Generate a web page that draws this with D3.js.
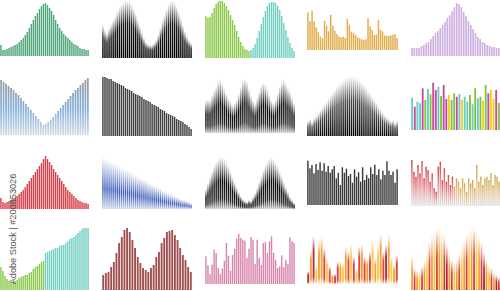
<!DOCTYPE html>
<html><head><meta charset="utf-8">
<script src="https://cdn.jsdelivr.net/npm/d3@7"></script>
<style>html,body{margin:0;padding:0;background:#fff;overflow:hidden}</style>
</head><body><svg id="c" width="500" height="291"></svg>
<script>
// ---- data (bar heights per mini chart) ----
const p1 = [11,6,6,7,8,9,10,11,12,14,16,18,21,24,28,32,36,40,43,47,50,52,53,51,48,45,41,36,32,28,25,22,20,18,16,14,12,11,10,8,7,7,6,6];
const p2 = [33,28,25,30,34,38,42,47,51,54,56,58,58,57,54,50,45,38,32,26,20,16,14,13,13,15,18,23,30,37,43,49,54,57,58,56,52,46,40,33,27,22,18,15];
const p3 = [42,40,41,45,50,54,56,57,57,55,52,48,43,38,33,27,21,16,12,9,8,7,8,10,14,20,27,34,41,47,52,55,56,56,55,52,48,42,35,28,21,15,10,7];
const p4 = [37.7,28.7,39.3,28.7,22.7,17.7,13.3,11.7,29.3,24.3,18.7,35.3,24.3,19.3,16,13.3,12.7,13.3,12,31,25.3,18.3,17,15,12.7,11.7,10.7,10,10.7,31.7,23.7,20,15,15.3,30.3,20.3,18.7,14.7,14.3,14,14.7,15.3,16,12];
const p5 = [8,8,8,8,10,11,13,14,17,20,23,25,28,31,34,38,41,45,49,53,52,49,44,40,35,31,27,23,19,17,14,13,11,10,9,9,8,8];
const p6 = [55,53,51,49,47,45,42,40,37,34,31,28,25,22,19,16,13,10,11,13,15,18,21,24,27,30,33,36,39,42,45,47,50,52,55,57];
const p7 = [59,59,58,57,57,55,54,53,52,51,50,48,47,46,45,43,42,41,40,39,37,36,35,34,32,31,30,29,27,26,25,23,22,21,20,19,17,16,15,14,12,11,9,7];
const p8 = [33,34,33,38,43,47,52,54,50,45,40,35,32,28,30,34,40,47,53,55,52,45,38,33,30,35,42,48,51,49,44,38,33,30,34,40,47,52,54,50,46,42,36,30];
const p9 = [15,17,14,18,20,23,26,29,32,35,38,41,44,47,50,52,54,56,58,59,60,60,60,59,58,56,54,52,49,46,43,40,37,34,30,27,24,21,19,17,15,16,13,15];
const p10 = [32.3,23.3,28.3,26.7,41.7,30,41,35.7,47.3,40,43.3,34,45,31,35,30,36.7,33.3,36,30,33.3,28.3,35,25.7,41.7,31.7,33.3,29.3,45,36.7,40,31,40,27.3];
const p10Cats = ["c","m","c","c","m","g","c","g","m","m","c","g","m","m","y","g","g","m","c","y","c","c","g","c","g","c","g","y","g","m","y","y","m","g"];
const p11 = [11,7,6,7,8,9,10,11,13,15,17,19,22,25,28,31,34,37,40,43,46,50,53,50,47,44,40,37,34,31,28,25,22,19,17,15,13,11,9,8,7,6,6,5];
const p12 = [52,51,50,49,48,47,46,45,43,42,41,40,39,38,37,35,34,33,32,31,30,29,27,26,25,24,23,22,21,19,18,17,16,15,14,13,12,11,10,9,9,8,7,6];
const p13 = [20,26,32,38,43,47,50,52,52,50,47,43,38,32,27,22,17,13,10,8,7,9,8,12,16,21,27,33,39,44,48,51,52,50,47,43,38,33,27,22,17,12,9,6];
const p14 = [44.3,36.7,40,31.7,41,35,42.7,34.3,41.7,33.3,39,32.3,35.7,39,26.7,32.3,20,37.7,32.3,36.3,29,31,22.3,35.7,28.3,32.7,23.3,37.7,25,30,26.7,37.7,31,40.3,30,35.7,25.7,34.3,30,43.7,34.3,30,33.3,22.3,35.7];
const p15 = [46,34.3,29.3,41,32.7,45,27.7,39.3,36,24.3,32.7,17.7,14.3,39.3,44.3,26,37.7,24.3,31,21,29.3,19.3,27.7,24.3,17.7,27.7,22.7,14.3,27.7,22.7,26,17.7,41,24.3,29.3,21,27.7,29.3,26,32.7,21,31,29.3,24.3];
const p16 = [23,19,14,11,9,8,8,9,10,12,13,14,15,15,17,18,21,23,24,26,28,29,37,38,39,40,41,42,42,44,45,45,47,49,51,52,53,55,57,59,61,62,62,62];
const p17 = [15,17,18,23,28,37,47,53,60,62,58,50,42,33,27,22,20,18,22,25,33,38,47,52,58,59,60,55,50,42,35,30,23,18];
const p18 = [27.7,18.7,10,19.3,34.3,31,16,10,15.3,23.3,41,28.3,13.3,29.3,35.3,45.3,50,46,44.3,43.3,26,35.3,47,44.3,20,44.3,26,19.3,41,42,31,42.7,47.7,31,24.3,16,17.7,28.7,16.7,24.3,20,46.7,42.7,41];
const p19 = [12.7,34.3,47.7,19.3,42.7,47.7,36,26,17.7,10,10,22.7,22.7,21,37.7,32.7,40,27.7,16,37.7,40,27.7,26,32.7,44.3,26,39.3,51,32.7,39.3,49.3,27.7,19.3,29.3];
const p19Cats = ["d","o","d","y","o","o","r","y","r","o","r","r","o","y","o","r","y","r","y","r","o","r","o","r","y","o","y","o","r","d","o","y","o","r"];
const p20 = [35,22,20,20,24,30,38,48,55,59,61,62,59,55,45,38,30,28,30,35,43,50,55,59,61,62,60,55,48,38,32,26,22,18,15,13];
const p20Cats = ["o","r","o","y","r","o","y","r","o","y","r","o","y","r","d","o","r","y","o","r","y","o","r","y","o","r","y","o","r","d","o","y","r","o","d","r"];
const watermark = "Adobe Stock | #200853026";

// ---- drawing ----
const svg = d3.select("#c");
const defs = svg.append("defs");
function grad(id, stops, opts = {}) {
  const g = defs.append("linearGradient").attr("id", id)
    .attr("x1", 0).attr("x2", 0).attr("y1", opts.y1 ?? 0).attr("y2", opts.y2 ?? 1);
  if (opts.user) g.attr("gradientUnits", "userSpaceOnUse");
  stops.forEach(([o, c, a]) => g.append("stop").attr("offset", o).attr("stop-color", c).attr("stop-opacity", a ?? 1));
  return `url(#${id})`;
}

const colX = [[0, 89], [102, 192], [205, 295], [307, 398], [411, 500]];

function drawPanel(values, xr, base, top, fillFn) {
  const x = d3.scaleBand().domain(d3.range(values.length)).range(xr).paddingInner(0.3).paddingOuter(0.1);
  const y = d3.scaleLinear().domain([0, d3.max(values)]).range([base, top]);
  svg.append("g").selectAll("rect").data(values).join("rect")
    .attr("x", (d, i) => x(i)).attr("width", x.bandwidth())
    .attr("y", d => y(d)).attr("height", d => y(0) - y(d))
    .attr("fill", (d, i) => fillFn(d, i));
}

const gP2 = grad("gP2", [[0, "#000", 0], [0.4, "#000", 0.9], [1, "#000", 1]]);
const gMid = grad("gMid", [[0, "#000", 0], [0.45, "#000", 0.95], [0.8, "#111", 0.9], [1, "#000", 0.2]]);
const gP9 = grad("gP9", [[0, "#000", 0], [0.4, "#000", 0.7], [1, "#000", 1]]);
const gP6 = grad("gP6", [[0, "#9a9a9a"], [0.55, "#86b1dd"], [1, "#d3dbe4"]], {user: true, y1: 78, y2: 135});
const gP12 = grad("gP12", [[0, "#3b5cb8", 0], [0.6, "#3b5cb8", 1], [1, "#3b5cb8", 0.25]]);
const gP15r = grad("gP15r", [[0, "#d9414a"], [0.55, "#e7a0a4"], [1, "#cfcfcf", 0.6]]);
const gP15t = grad("gP15t", [[0, "#d5a546"], [0.55, "#e3cba2"], [1, "#cfcfcf", 0.6]]);
const hot = {d: "#a8172b", r: "#d9302a", o: "#f2961c", y: "#f7c33c"};
const g19 = {}, g20 = {};
Object.entries(hot).forEach(([k, c]) => {
  g19[k] = grad("g19" + k, [[0, c, 0], [0.3, c, 0.9], [0.85, c, 0.9], [1, c, 0.1]]);
  g20[k] = grad("g20" + k, [[0, c, 0], [0.45, c, 0.9], [1, c, 1]]);
});
const c10 = {c: "#67cbc2", m: "#c94a9c", g: "#7dc242", y: "#f4d01c"};

// row 1
drawPanel(p1, colX[0], 56, 3, () => "#4fa67b");
drawPanel(p2, colX[1], 58, 0, () => gP2);
drawPanel(p3, colX[2], 58, 1, (d, i) => i < 22 ? "#8cc84b" : "#74cfc4");
drawPanel(p4, colX[3], 50, 10.7, () => "#e2ad4c");
drawPanel(p5, colX[4], 56, 3.3, () => "#cdb0df");
// row 2
drawPanel(p6, colX[0], 135, 78, () => gP6);
drawPanel(p7, colX[1], 136, 77, () => "#404040");
drawPanel(p8, colX[2], 133, 78, () => gMid);
drawPanel(p9, colX[3], 136, 76, () => gP9);
drawPanel(p10, colX[4], 130, 82.7, (d, i) => c10[p10Cats[i]]);
// row 3
drawPanel(p11, colX[0], 209, 156, () => "#d63f48");
drawPanel(p12, colX[1], 209, 157, () => gP12);
drawPanel(p13, colX[2], 209, 157, () => gMid);
drawPanel(p14, colX[3], 205, 160.7, () => "#383838");
drawPanel(p15, colX[4], 206, 160, (d, i) => i < 21 ? gP15r : gP15t);
// row 4
drawPanel(p16, colX[0], 290, 228, (d, i) => i < 22 ? "#8cc84b" : "#74cfc4");
drawPanel(p17, colX[1], 290, 228, () => "#9e4f4e");
drawPanel(p18, colX[2], 284, 234, () => "#d888ae");
drawPanel(p19, colX[3], 284, 233, (d, i) => g19[p19Cats[i]]);
drawPanel(p20, colX[4], 290, 228, (d, i) => g20[p20Cats[i]]);

svg.append("text")
  .attr("transform", "translate(16,229) rotate(-90)")
  .attr("text-anchor", "middle")
  .attr("font-family", "Liberation Sans, Arial, sans-serif")
  .attr("font-size", 9.2).attr("fill", "#555")
  .text(watermark);
</script></body></html>
